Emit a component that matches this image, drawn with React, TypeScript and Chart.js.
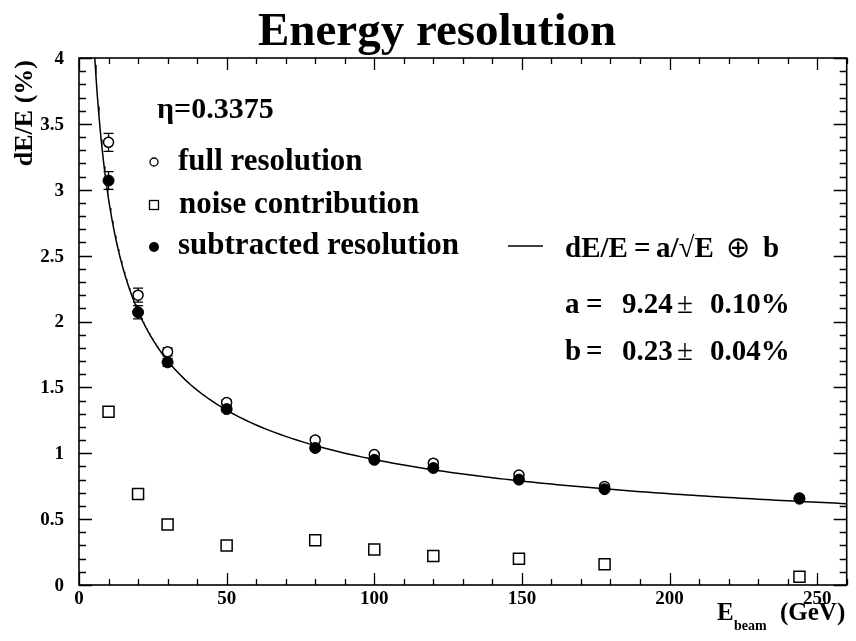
import React, { useEffect, useRef } from "react";
import { Chart, registerables } from "chart.js";

Chart.register(...registerables);

// Beam energies (GeV) and the measured resolutions (%)
const BEAM_ENERGY = [10, 20, 30, 50, 80, 100, 120, 149, 178, 244];
const FULL_RES = [3.36, 2.2, 1.77, 1.385, 1.1, 0.99, 0.925, 0.835, 0.748, 0.66];
const FULL_ERR = [0.068, 0.053, 0.03, 0.02, 0.02, 0.015, 0.015, 0.015, 0.015, 0.015];
const SUB_RES = [3.07, 2.07, 1.69, 1.335, 1.04, 0.95, 0.888, 0.8, 0.727, 0.655];
const SUB_ERR = [0.067, 0.05, 0.03, 0.02, 0.02, 0.015, 0.015, 0.015, 0.015, 0.015];
const NOISE = [1.315, 0.69, 0.46, 0.3, 0.34, 0.27, 0.22, 0.2, 0.157, 0.063];

// Fit parameters of dE/E = a/sqrt(E) (+) b, in %
const FIT_A = 9.24;
const FIT_A_ERR = 0.1;
const FIT_B = 0.23;
const FIT_B_ERR = 0.04;
const ETA = "0.3375";

const X_MAJOR = [0, 50, 100, 150, 200, 250];
const Y_MAJOR = [0, 0.5, 1, 1.5, 2, 2.5, 3, 3.5, 4];
const Y_LABELS = ["0", "0.5", "1", "1.5", "2", "2.5", "3", "3.5", "4"];

const X_MIN = 0;
const X_MAX = 260;
const Y_MIN = 0;
const Y_MAX = 4;

const SERIF = '"Liberation Serif", "Times New Roman", Times, serif';

function fitResolution(e: number): number {
  const stoch = FIT_A / Math.sqrt(e);
  return Math.sqrt(stoch * stoch + FIT_B * FIT_B);
}

const FIT_ENERGY: number[] = [];
for (let e = 4.5; e <= X_MAX; e += e < 30 ? 0.25 : 2) FIT_ENERGY.push(e);
FIT_ENERGY.push(X_MAX);

const decorPlugin = {
  id: "rootDecor",
  beforeDraw(chart: any) {
    const ctx = chart.ctx;
    ctx.save();
    ctx.fillStyle = "#fff";
    ctx.fillRect(0, 0, chart.width, chart.height);
    ctx.restore();
  },
  beforeDatasetsDraw(chart: any) {
    const ctx = chart.ctx;
    const xs = chart.scales.x;
    const ys = chart.scales.y;
    const bars = (vals: number[], errs: number[]) => {
      vals.forEach((v, i) => {
        const px = xs.getPixelForValue(BEAM_ENERGY[i]);
        const top = ys.getPixelForValue(v + errs[i]);
        const bot = ys.getPixelForValue(v - errs[i]);
        ctx.beginPath();
        ctx.moveTo(px, top);
        ctx.lineTo(px, bot);
        ctx.moveTo(px - 5, top);
        ctx.lineTo(px + 5, top);
        ctx.moveTo(px - 5, bot);
        ctx.lineTo(px + 5, bot);
        ctx.stroke();
      });
    };
    ctx.save();
    ctx.strokeStyle = "#000";
    ctx.lineWidth = 1.3;
    bars(FULL_RES, FULL_ERR);
    bars(SUB_RES, SUB_ERR);
    ctx.restore();
  },
  afterDraw(chart: any) {
    const ctx = chart.ctx;
    const xs = chart.scales.x;
    const ys = chart.scales.y;
    const { left, right, top, bottom } = chart.chartArea;

    ctx.save();
    ctx.strokeStyle = "#000";
    ctx.fillStyle = "#000";

    // frame
    ctx.lineWidth = 1.6;
    ctx.strokeRect(left, top, right - left, bottom - top);

    // inward ticks on all four sides
    ctx.lineWidth = 1.3;
    ctx.beginPath();
    for (let v = X_MIN; v <= X_MAX; v += 10) {
      const px = Math.round(xs.getPixelForValue(v)) + 0.5;
      const len = v % 50 === 0 ? 12 : 6;
      ctx.moveTo(px, bottom);
      ctx.lineTo(px, bottom - len);
      ctx.moveTo(px, top);
      ctx.lineTo(px, top + len);
    }
    for (let k = 0; k <= 40; k++) {
      const v = k / 10;
      const py = Math.round(ys.getPixelForValue(v)) + 0.5;
      const len = k % 5 === 0 ? 13 : 7;
      ctx.moveTo(left, py);
      ctx.lineTo(left + len, py);
      ctx.moveTo(right, py);
      ctx.lineTo(right - len, py);
    }
    ctx.stroke();

    // tick labels
    ctx.font = `bold 19px ${SERIF}`;
    ctx.textAlign = "center";
    ctx.textBaseline = "alphabetic";
    X_MAJOR.forEach((v) => {
      ctx.fillText(String(v), xs.getPixelForValue(v), bottom + 19);
    });
    ctx.textAlign = "right";
    ctx.textBaseline = "middle";
    Y_MAJOR.forEach((v, i) => {
      ctx.fillText(Y_LABELS[i], left - 15, ys.getPixelForValue(v) + 1);
    });

    // title
    ctx.textAlign = "center";
    ctx.textBaseline = "alphabetic";
    ctx.font = `bold 47px ${SERIF}`;
    ctx.fillText("Energy resolution", 437, 45);

    // y-axis title
    ctx.save();
    ctx.translate(32, top + 2);
    ctx.rotate(-Math.PI / 2);
    ctx.textAlign = "right";
    ctx.font = `bold 26px ${SERIF}`;
    ctx.fillText("dE/E (%)", 0, 0);
    ctx.restore();

    // x-axis title
    ctx.textAlign = "left";
    ctx.font = `bold 25px ${SERIF}`;
    ctx.fillText("E", 717, 620);
    ctx.font = `bold 14px ${SERIF}`;
    ctx.fillText("beam", 734, 630);
    ctx.font = `bold 25px ${SERIF}`;
    ctx.fillText("(GeV)", 780, 620);

    // eta label
    ctx.font = `bold 30px ${SERIF}`;
    ctx.fillText(`η=${ETA}`, 157, 118);

    // legend markers
    ctx.lineWidth = 1.3;
    ctx.beginPath();
    ctx.arc(154, 162, 4, 0, Math.PI * 2);
    ctx.stroke();
    ctx.strokeRect(149.5, 200.5, 9, 9);
    ctx.beginPath();
    ctx.arc(154, 247, 5, 0, Math.PI * 2);
    ctx.fill();

    // legend texts
    ctx.font = `bold 31px ${SERIF}`;
    ctx.fillText("full resolution", 178, 170);
    ctx.fillText("noise contribution", 179, 213);
    ctx.fillText("subtracted resolution", 178, 254);

    // fit legend
    ctx.lineWidth = 1.5;
    ctx.beginPath();
    ctx.moveTo(508, 246);
    ctx.lineTo(543, 246);
    ctx.stroke();

    const bold = `bold 29px ${SERIF}`;
    const plain = `29px ${SERIF}`;
    const put = (t: string, x: number, y: number, f: string) => {
      ctx.font = f;
      ctx.fillText(t, x, y);
    };
    put("dE/E", 565, 257, bold);
    put("=", 634, 257, bold);
    put("a/√E", 656, 257, bold);
    put("⊕", 726, 257, plain);
    put("b", 763, 257, bold);

    put("a", 565, 313, bold);
    put("=", 586, 313, bold);
    put(FIT_A.toFixed(2), 622, 313, bold);
    put("±", 677, 313, plain);
    put(`${FIT_A_ERR.toFixed(2)}%`, 710, 313, bold);

    put("b", 565, 360, bold);
    put("=", 586, 360, bold);
    put(FIT_B.toFixed(2), 622, 360, bold);
    put("±", 677, 360, plain);
    put(`${FIT_B_ERR.toFixed(2)}%`, 710, 360, bold);

    ctx.restore();
  },
};

export default function App() {
  const canvasRef = useRef<HTMLCanvasElement | null>(null);

  useEffect(() => {
    const canvas = canvasRef.current;
    if (!canvas) return;
    const chart = new Chart(canvas, {
      type: "scatter",
      data: {
        datasets: [
          {
            label: "subtracted resolution",
            data: BEAM_ENERGY.map((e, i) => ({ x: e, y: SUB_RES[i] })),
            pointStyle: "circle",
            pointRadius: 5.5,
            backgroundColor: "#000",
            borderColor: "#000",
            borderWidth: 1,
          },
          {
            label: "full resolution",
            data: BEAM_ENERGY.map((e, i) => ({ x: e, y: FULL_RES[i] })),
            pointStyle: "circle",
            pointRadius: 5,
            backgroundColor: "#fff",
            borderColor: "#000",
            borderWidth: 1.5,
          },
          {
            label: "noise contribution",
            data: BEAM_ENERGY.map((e, i) => ({ x: e, y: NOISE[i] })),
            pointStyle: "rect",
            pointRadius: 7.8,
            backgroundColor: "#fff",
            borderColor: "#000",
            borderWidth: 1.5,
          },
          {
            type: "line",
            label: "fit",
            data: FIT_ENERGY.map((e) => ({ x: e, y: fitResolution(e) })),
            borderColor: "#000",
            borderWidth: 1.5,
            pointRadius: 0,
            tension: 0,
            fill: false,
          } as any,
        ],
      },
      options: {
        responsive: false,
        animation: false,
        devicePixelRatio: 1,
        layout: { padding: { left: 79, right: 2, top: 58, bottom: 56 } },
        scales: {
          x: { type: "linear", min: X_MIN, max: X_MAX, display: false },
          y: { type: "linear", min: Y_MIN, max: Y_MAX, display: false },
        },
        plugins: {
          legend: { display: false },
          tooltip: { enabled: false },
          title: { display: false },
        },
      },
      plugins: [decorPlugin],
    });
    return () => chart.destroy();
  }, []);

  return (
    <div style={{ position: "fixed", left: 0, top: 0, width: 856, height: 641, background: "#fff" }}>
      <canvas ref={canvasRef} width={856} height={641} style={{ display: "block" }} />
    </div>
  );
}
